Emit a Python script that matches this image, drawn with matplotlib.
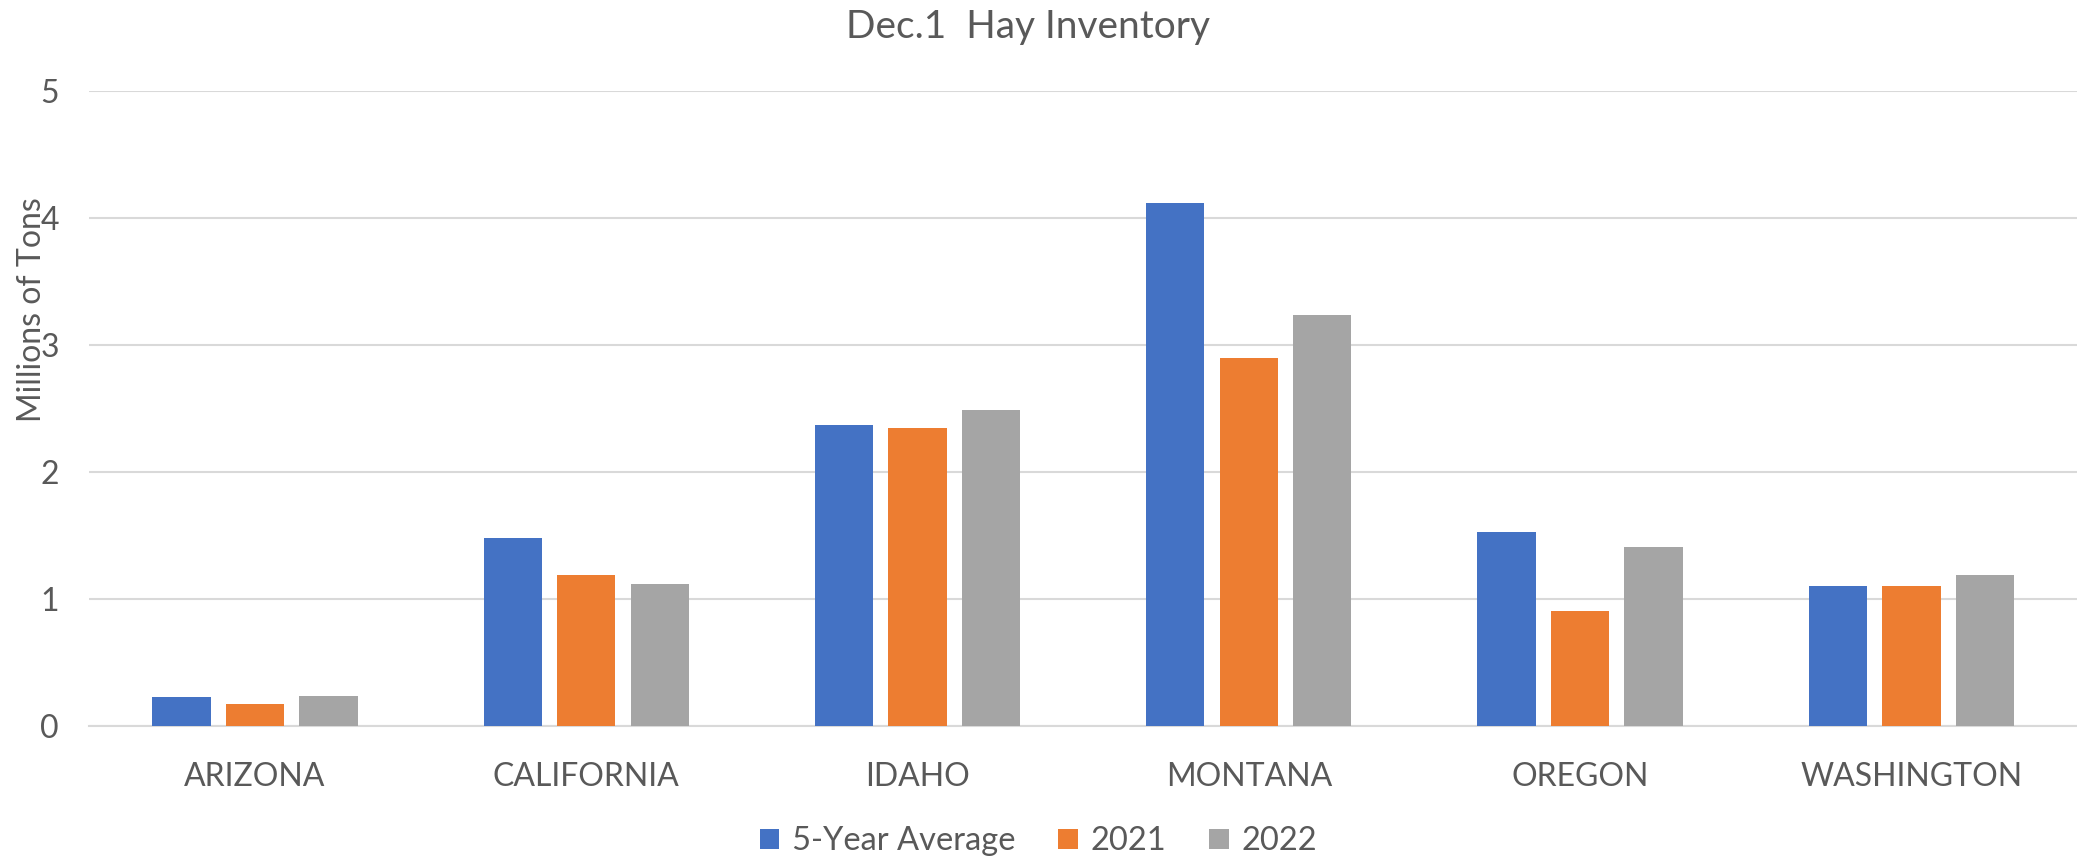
import matplotlib.pyplot as plt
import numpy as np

# Dec. 1 hay inventory, millions of tons
states = ["ARIZONA", "CALIFORNIA", "IDAHO", "MONTANA", "OREGON", "WASHINGTON"]
avg5 = [0.23, 1.48, 2.37, 4.12, 1.53, 1.10]
y2021 = [0.17, 1.19, 2.35, 2.90, 0.91, 1.10]
y2022 = [0.24, 1.12, 2.49, 3.24, 1.41, 1.19]

series = [("5-Year Average", avg5, "#4472C4"),
          ("2021", y2021, "#ED7D31"),
          ("2022", y2022, "#A5A5A5")]

plt.rcParams['font.family'] = ['Lato', 'DejaVu Sans']
txt = "#595959"

fig = plt.figure(figsize=(20.77, 8.63), dpi=100)
ax = fig.add_axes([0.043, 0.1587, 0.957, 0.7355])

x = np.arange(len(states))
w = 0.176
step = 0.222
for i, (name, vals, col) in enumerate(series):
    ax.bar(x + (i - 1) * step, vals, w, color=col, label=name, zorder=3)

ax.set_xlim(-0.5, len(states) - 0.5)
ax.set_ylim(0, 5)
ax.set_yticks([0, 1, 2, 3, 4, 5])
ax.set_xticks(x)
ax.set_xticklabels(states)
ax.grid(axis="y", color="#D9D9D9", linewidth=1.5, zorder=0)
for s in ["top", "right", "left"]:
    ax.spines[s].set_visible(False)
ax.spines["bottom"].set_color("#D9D9D9")
ax.spines["bottom"].set_linewidth(1.5)
ax.tick_params(axis="both", length=0, labelsize=23, colors=txt)
ax.tick_params(axis="y", pad=22)
ax.tick_params(axis="x", pad=26)

fig.text(0.495, 0.969, "Dec.1  Hay Inventory", ha="center", va="center",
         fontsize=28, color=txt)
fig.text(0.0155, 0.641, "Millions of Tons", rotation=90, ha="center",
         va="center", fontsize=23, color=txt)

ax.legend(loc="center", bbox_to_anchor=(0.5, 0.025), bbox_transform=fig.transFigure,
          ncol=3, frameon=False, fontsize=23.5, labelcolor=txt,
          handlelength=0.6, handleheight=0.6, handletextpad=0.4, columnspacing=1.3)

fig.savefig("out.png", dpi=100)
